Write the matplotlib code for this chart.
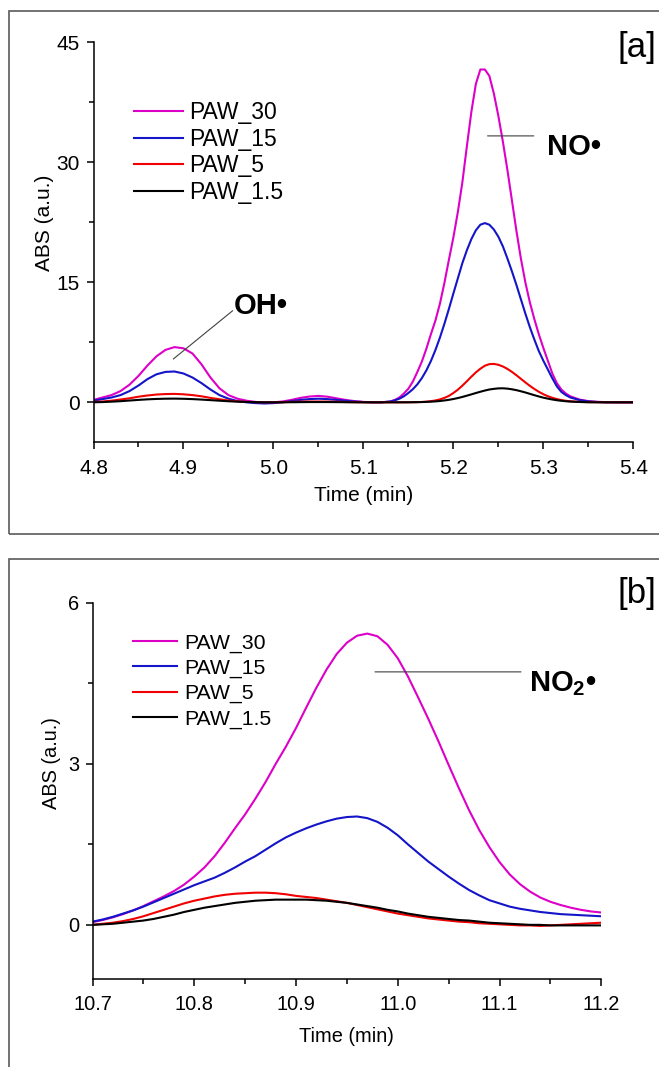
import matplotlib
matplotlib.use('Agg')
import matplotlib.pyplot as plt
from matplotlib import font_manager
from matplotlib.ticker import FixedLocator, MultipleLocator, FormatStrFormatter
from matplotlib.patches import Rectangle

# ---- data panel [a] (4.8 - 5.4 min) ----
time_a = [4.80, 4.81, 4.82, 4.83, 4.84, 4.85, 4.86, 4.87, 4.88, 4.89,
          4.90, 4.91, 4.92, 4.93, 4.94, 4.95, 4.96, 4.97, 4.98, 4.99,
          5.00, 5.01, 5.02, 5.03, 5.04, 5.05, 5.06, 5.07, 5.08, 5.09,
          5.10, 5.11, 5.12,
          5.130, 5.135, 5.140, 5.145, 5.150, 5.155, 5.160, 5.165, 5.170, 5.175,
          5.180, 5.185, 5.190, 5.195, 5.200, 5.205, 5.210, 5.215, 5.220, 5.225,
          5.230, 5.235, 5.240, 5.245, 5.250, 5.255, 5.260, 5.265, 5.270, 5.275,
          5.280, 5.285, 5.290, 5.295, 5.300, 5.305, 5.310, 5.315, 5.320, 5.325,
          5.330,
          5.34, 5.35, 5.36, 5.37, 5.38, 5.39, 5.40]

paw30_a = [0.3, 0.6, 0.9, 1.4, 2.2, 3.3, 4.6, 5.75, 6.55, 6.9,
           6.75, 6.1, 4.75, 3.1, 1.75, 0.9, 0.45, 0.2, 0.05, -0.05,
           0.0, 0.1, 0.3, 0.55, 0.72, 0.8, 0.7, 0.5, 0.3, 0.15,
           0.05, 0.0, 0.0,
           0.1, 0.3, 0.6, 1.1, 1.7, 2.6, 3.8, 5.1, 6.7, 8.5,
           10.2, 12.3, 14.9, 17.8, 20.6, 23.8, 27.5, 32.0, 36.3, 39.8,
           41.6, 41.6, 40.8, 38.6, 35.8, 32.6, 29.1, 25.3, 21.5, 18.0,
           15.0, 12.5, 10.4, 8.5, 6.8, 5.2, 3.6, 2.4, 1.6, 1.1,
           0.75,
           0.35, 0.15, 0.06, 0.02, 0.0, 0.0, 0.0]

paw15_a = [0.2, 0.4, 0.6, 0.9, 1.4, 2.1, 2.9, 3.5, 3.8, 3.85,
           3.6, 3.1, 2.4, 1.6, 0.9, 0.45, 0.15, 0.0, -0.1, -0.15,
           -0.1, 0.0, 0.15, 0.3, 0.4, 0.45, 0.4, 0.3, 0.2, 0.1,
           0.03, 0.0, 0.0,
           0.1, 0.25, 0.45, 0.75, 1.17, 1.64, 2.25, 3.03, 3.99, 5.15,
           6.52, 8.07, 9.8, 11.66, 13.6, 15.5, 17.4, 19.0, 20.4, 21.5,
           22.2, 22.4, 22.2, 21.6, 20.7, 19.5, 18.0, 16.4, 14.7, 12.9,
           11.1, 9.4, 7.85, 6.4, 5.2, 4.1, 3.0, 2.0, 1.3, 0.9,
           0.6,
           0.28, 0.11, 0.04, 0.0, 0.0, 0.0, 0.0]

paw5_a = [0.05, 0.1, 0.2, 0.35, 0.5, 0.7, 0.85, 0.97, 1.03, 1.05,
          1.0, 0.9, 0.75, 0.55, 0.38, 0.22, 0.12, 0.05, 0.02, 0.0,
          0.0, 0.02, 0.05, 0.08, 0.1, 0.1, 0.09, 0.07, 0.04, 0.02,
          0.0, 0.0, 0.0,
          0.0, 0.0, 0.0, 0.0, 0.01, 0.01, 0.02, 0.04, 0.08, 0.14,
          0.23, 0.36, 0.55, 0.8, 1.16, 1.58, 2.08, 2.63, 3.2, 3.74,
          4.2, 4.57, 4.77, 4.8, 4.69, 4.48, 4.18, 3.81, 3.39, 2.94,
          2.49, 2.06, 1.67, 1.31, 1.01, 0.76, 0.56, 0.4, 0.28, 0.19,
          0.13,
          0.05, 0.02, 0.01, 0.0, 0.0, 0.0, 0.0]

paw1_5_a = [0.0, 0.03, 0.08, 0.14, 0.22, 0.3, 0.37, 0.42, 0.45, 0.46,
            0.44, 0.4, 0.34, 0.27, 0.2, 0.13, 0.08, 0.04, 0.02, 0.0,
            0.0, 0.0, 0.01, 0.02, 0.03, 0.03, 0.03, 0.02, 0.01, 0.0,
            0.0, 0.0, 0.0,
            0.0, 0.0, 0.0, 0.0, 0.0, 0.01, 0.02, 0.03, 0.05, 0.08,
            0.11, 0.16, 0.23, 0.31, 0.41, 0.53, 0.67, 0.83, 0.99, 1.16,
            1.32, 1.47, 1.6, 1.68, 1.74, 1.75, 1.71, 1.63, 1.52, 1.38,
            1.23, 1.06, 0.89, 0.73, 0.58, 0.46, 0.35, 0.26, 0.19, 0.13,
            0.09,
            0.04, 0.01, 0.0, 0.0, 0.0, 0.0, 0.0]

# ---- data panel [b] (10.7 - 11.2 min) ----
time_b = [10.70, 10.71, 10.72, 10.73, 10.74, 10.75, 10.76, 10.77, 10.78, 10.79,
          10.80, 10.81, 10.82, 10.83, 10.84, 10.85, 10.86, 10.87, 10.88, 10.89,
          10.90, 10.91, 10.92, 10.93, 10.94, 10.95, 10.96, 10.97, 10.98, 10.99,
          11.00, 11.01, 11.02, 11.03, 11.04, 11.05, 11.06, 11.07, 11.08, 11.09,
          11.10, 11.11, 11.12, 11.13, 11.14, 11.15, 11.16, 11.17, 11.18, 11.19,
          11.20]

paw30_b = [0.05, 0.09, 0.14, 0.2, 0.27, 0.35, 0.44, 0.53, 0.63, 0.75,
           0.9, 1.07, 1.28, 1.53, 1.8, 2.06, 2.35, 2.66, 3.0, 3.32,
           3.67, 4.05, 4.42, 4.76, 5.05, 5.26, 5.39, 5.43, 5.38, 5.22,
           4.97, 4.63, 4.24, 3.84, 3.42, 2.98, 2.55, 2.14, 1.77, 1.45,
           1.17, 0.94, 0.76, 0.62, 0.51, 0.43, 0.37, 0.32, 0.28, 0.25,
           0.23]

paw15_b = [0.06, 0.1, 0.15, 0.21, 0.27, 0.34, 0.42, 0.5, 0.58, 0.66,
           0.74, 0.81, 0.88, 0.97, 1.07, 1.18, 1.28, 1.4, 1.52, 1.63,
           1.72, 1.8, 1.87, 1.93, 1.98, 2.01, 2.02, 1.99, 1.92, 1.81,
           1.67, 1.5, 1.34, 1.18, 1.04, 0.9, 0.77, 0.65, 0.55, 0.46,
           0.4, 0.34, 0.3, 0.27, 0.24, 0.22, 0.2, 0.19, 0.18, 0.17,
           0.16]

paw5_b = [0.0, 0.02, 0.04, 0.07, 0.11, 0.16, 0.22, 0.28, 0.34, 0.4,
          0.45, 0.49, 0.53, 0.56, 0.58, 0.59, 0.6, 0.6, 0.59, 0.57,
          0.54, 0.52, 0.5, 0.47, 0.44, 0.41, 0.37, 0.33, 0.29, 0.25,
          0.21, 0.18, 0.15, 0.12, 0.1, 0.08, 0.06, 0.05, 0.03, 0.02,
          0.01, 0.0, -0.01, -0.01, -0.02, -0.01, 0.0, 0.01, 0.02, 0.03,
          0.04]

paw1_5_b = [0.0, 0.01, 0.02, 0.04, 0.06, 0.08, 0.11, 0.15, 0.19, 0.24,
            0.28, 0.32, 0.35, 0.38, 0.41, 0.43, 0.45, 0.46, 0.47, 0.47,
            0.47, 0.47, 0.46, 0.45, 0.43, 0.41, 0.38, 0.35, 0.32, 0.28,
            0.25, 0.21, 0.18, 0.15, 0.13, 0.11, 0.09, 0.08, 0.06, 0.04,
            0.03, 0.02, 0.01, 0.0, 0.0, -0.01, -0.01, -0.01, -0.01, -0.01,
            -0.01]

labels = ['PAW_30', 'PAW_15', 'PAW_5', 'PAW_1.5']
colors = ['#DC00C8', '#1414C8', '#F00000', '#000000']

xticks_a = [4.8, 4.9, 5.0, 5.1, 5.2, 5.3, 5.4]
yticks_a = [0, 15, 30, 45]
yminor_a = [7.5, 22.5, 37.5]
xticks_b = [10.7, 10.8, 10.9, 11.0, 11.1, 11.2]
yticks_b = [0, 3, 6]
yminor_b = [1.5, 4.5]

# ---- fonts ----
plt.rcParams['font.family'] = ['Liberation Sans', 'DejaVu Sans']
plt.rcParams['mathtext.fontset'] = 'custom'
plt.rcParams['mathtext.rm'] = 'Liberation Sans'
plt.rcParams['mathtext.bf'] = 'Liberation Sans:bold'

names = {f.name for f in font_manager.fontManager.ttflist}
if 'Liberation Sans Narrow' in names:
    tag_font, tag_size = 'Liberation Sans Narrow', 28
else:
    tag_font, tag_size = 'Liberation Sans', 25

W, H = 659, 1067
fig = plt.figure(figsize=(W / 100, H / 100), dpi=100)
fig.patch.set_facecolor('white')


def px_axes(left, top, right, bottom):
    return fig.add_axes([left / W, 1 - bottom / H, (right - left) / W, (bottom - top) / H])


def style(ax, fs, xticks, yticks, yminor, xlim, ylim):
    ax.spines[['top', 'right']].set_visible(False)
    for s in ('left', 'bottom'):
        ax.spines[s].set_linewidth(1.1)
    ax.set_xlim(xlim)
    ax.set_ylim(ylim)
    ax.set_xticks(xticks)
    ax.set_yticks(yticks)
    ax.xaxis.set_minor_locator(MultipleLocator(0.05))
    ax.yaxis.set_minor_locator(FixedLocator(yminor))
    ax.xaxis.set_major_formatter(FormatStrFormatter('%.1f'))
    ax.tick_params(which='major', direction='out', length=5.2, width=1.1, labelsize=fs)
    ax.tick_params(which='minor', direction='out', length=3.6, width=1.1)
    ax.tick_params(axis='x', which='major', pad=6.5)
    ax.tick_params(axis='y', which='major', pad=4.5)


# ---- panel [a] ----
ax1 = px_axes(93.5, 42.3, 633.3, 442.3)
for y, lab, c in zip([paw30_a, paw15_a, paw5_a, paw1_5_a], labels, colors):
    ax1.plot(time_a, y, color=c, lw=1.5, label=lab)
style(ax1, 15, xticks_a, yticks_a, yminor_a, (4.8, 5.4), (-5, 45))
ax1.set_xlabel('Time (min)', fontsize=15)
ax1.set_ylabel('ABS (a.u.)', fontsize=15)
ax1.xaxis.set_label_coords(0.5, -0.11)
ax1.yaxis.set_label_coords(-0.073, 0.548)
ax1.legend(loc='upper left', bbox_to_anchor=(0.0756, 0.852), frameon=False, fontsize=16.5,
           handlelength=2.14, handletextpad=0.26, labelspacing=0.15,
           borderpad=0, borderaxespad=0)

ax1.annotate('', xy=(4.8887, 5.41), xytext=(4.9547, 11.45),
             arrowprops=dict(arrowstyle='-', color='#404040', lw=0.8, shrinkA=0, shrinkB=0))
ax1.text(4.956, 11.1, 'OH•', fontsize=21, fontweight='bold', ha='left', va='baseline')
ax1.annotate('', xy=(5.238, 33.3), xytext=(5.2894, 33.3),
             arrowprops=dict(arrowstyle='-', color='#404040', lw=0.8, shrinkA=0, shrinkB=0))
ax1.text(5.3042, 30.9, 'NO•', fontsize=21, fontweight='bold', ha='left', va='baseline')

# ---- panel [b] ----
ax2 = px_axes(92.5, 603, 601.3, 978.5)
for y, lab, c in zip([paw30_b, paw15_b, paw5_b, paw1_5_b], labels, colors):
    ax2.plot(time_b, y, color=c, lw=1.5, label=lab)
style(ax2, 14.4, xticks_b, yticks_b, yminor_b, (10.7, 11.2), (-1, 6))
ax2.set_xlabel('Time (min)', fontsize=14.4)
ax2.set_ylabel('ABS (a.u.)', fontsize=14.4)
ax2.xaxis.set_label_coords(0.5, -0.13)
ax2.yaxis.set_label_coords(-0.061, 0.575)
ax2.legend(loc='upper left', bbox_to_anchor=(0.079, 0.919), frameon=False, fontsize=15.3,
           handlelength=2.07, handletextpad=0.34, labelspacing=0.29,
           borderpad=0, borderaxespad=0)

ax2.annotate('', xy=(10.9776, 4.716), xytext=(11.1211, 4.716),
             arrowprops=dict(arrowstyle='-', color='#404040', lw=0.8, shrinkA=0, shrinkB=0))
ax2.text(11.1292, 4.36, r'NO$_\mathbf{2}$•', fontsize=21, fontweight='bold', ha='left', va='baseline')

# ---- panel tags and frames ----
fig.text(656 / W, 1 - 48 / H, '[a]', fontsize=tag_size, family=tag_font, ha='right', va='center')
fig.text(656 / W, 1 - 594 / H, '[b]', fontsize=tag_size, family=tag_font, ha='right', va='center')

fig.add_artist(Rectangle((9 / W, 1 - 534.4 / H), 1.0, (534.4 - 11.4) / H,
                         transform=fig.transFigure, fill=False, edgecolor='#5a5a5a', lw=1.2))
fig.add_artist(Rectangle((9 / W, -0.1), 1.0, (1 - 559.2 / H) + 0.1,
                         transform=fig.transFigure, fill=False, edgecolor='#5a5a5a', lw=1.2))

fig.savefig('out.png', dpi=100)
